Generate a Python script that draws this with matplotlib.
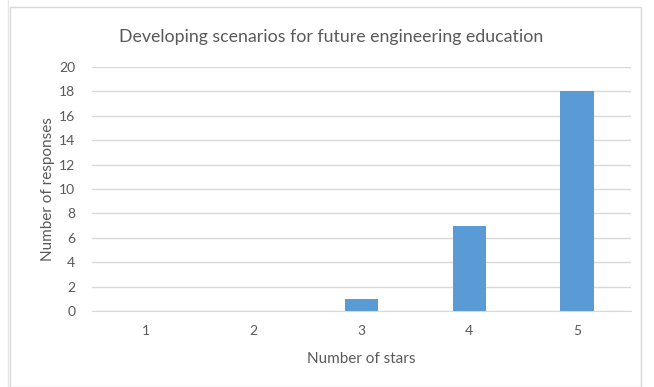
import matplotlib
matplotlib.use('Agg')
import matplotlib.pyplot as plt
from matplotlib.patches import Rectangle

plt.rcParams['font.family'] = ['Lato', 'DejaVu Sans']

stars = ['1', '2', '3', '4', '5']
responses = [0, 0, 1, 7, 18]
yticks = list(range(0, 21, 2))

W, H = 654, 387
fig = plt.figure(figsize=(W / 100, H / 100), dpi=100)

# chart frame like excel
fig.patches.append(Rectangle((10 / W, 0), 631 / W, 380 / H, transform=fig.transFigure,
                             fill=False, edgecolor='#d9d9d9', linewidth=1))
fig.patches.append(Rectangle((8 / W, 0), 0, 1, transform=fig.transFigure,
                             fill=False, edgecolor='#e6e6e6', linewidth=1))

ax = fig.add_axes([92 / W, (H - 311) / H, 539 / W, 244 / H])
pos = list(range(1, len(stars) + 1))
ax.bar(pos, responses, width=0.31, color='#5b9bd5', zorder=3)
ax.set_xlim(0.5, 5.5)
ax.set_ylim(0, 20)
ax.set_xticks(pos)
ax.set_xticklabels(stars)
ax.set_yticks(yticks)
ax.grid(axis='y', color='#d9d9d9', linewidth=1, zorder=0)
for s in ['top', 'right', 'left']:
    ax.spines[s].set_visible(False)
ax.spines['bottom'].set_color('#d9d9d9')
ax.tick_params(length=0, colors='#595959', labelsize=10)
ax.tick_params(axis='x', pad=10)
ax.tick_params(axis='y', pad=12)

ax.set_xlabel('Number of stars', fontsize=11, color='#595959', labelpad=11)
ax.set_ylabel('Number of responses', fontsize=11, color='#595959', labelpad=3)
fig.text(331 / W, (H - 37) / H, 'Developing scenarios for future engineering education',
         ha='center', va='center', fontsize=12.8, color='#595959')

fig.savefig('out.png', dpi=100)
